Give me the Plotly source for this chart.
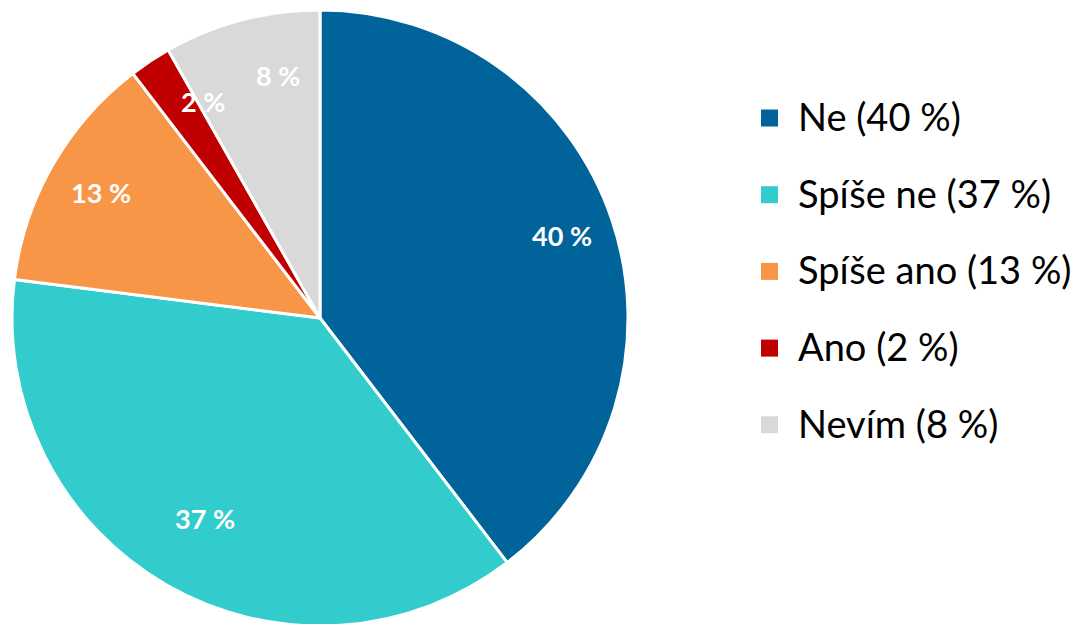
import math
import plotly.graph_objects as go

categories = ["Ne", "Spíše ne", "Spíše ano", "Ano", "Nevím"]
values = [39.6, 37.4, 12.6, 2.2, 8.2]
colors = ["#00639A", "#33CCCC", "#F79646", "#C00000", "#D9D9D9"]

W, H = 1080, 624
OFF = 8  # page body margin
cx, cy, R = 320 - OFF, 318 - OFF, 308  # pie centre / radius in pixels (figure coords)
label_r = [0.83, 0.75, 0.82, 0.80, 0.80]  # label distance as fraction of radius
label_dang = [0, 0, 0, 5, 5]  # label angular nudge (degrees, clockwise)

fig = go.Figure(go.Pie(
    labels=categories,
    values=values,
    sort=False,
    direction="clockwise",
    rotation=0,
    marker=dict(colors=colors, line=dict(color="white", width=3)),
    textinfo="none",
    hoverinfo="label+percent",
    showlegend=False,
    domain=dict(x=[(cx - R) / W, (cx + R) / W], y=[1 - (cy + R) / H, 1 - (cy - R) / H]),
))

# slice labels
total = sum(values)
cum = 0
for i, (cat, v) in enumerate(zip(categories, values)):
    mid = (cum + v / 2) / total * 2 * math.pi + math.radians(label_dang[i])
    cum += v
    r = label_r[i] * R
    px = cx + r * math.sin(mid)
    py = cy - r * math.cos(mid)
    fig.add_annotation(
        x=px / W, y=1 - py / H, xref="paper", yref="paper",
        text=f"{v:.0f} %", showarrow=False,
        font=dict(family="Lato", size=27, color="white", weight="bold"),
        xanchor="center", yanchor="middle",
    )

# legend
ly0, ldy = 118 - OFF, 76.7
mx0, mx1, tx = 761 - OFF, 778 - OFF, 796 - OFF
for i, (cat, v, c) in enumerate(zip(categories, values, colors)):
    yc = ly0 + i * ldy
    fig.add_shape(type="rect", xref="paper", yref="paper",
                  x0=mx0 / W, x1=mx1 / W, y0=1 - (yc + 8.5) / H, y1=1 - (yc - 8.5) / H,
                  fillcolor=c, line=dict(width=0))
    fig.add_annotation(
        x=tx / W, y=1 - (yc - 2) / H, xref="paper", yref="paper",
        text=f"{cat} ({v:.0f} %)", showarrow=False,
        font=dict(family="Lato", size=38, color="black"),
        xanchor="left", yanchor="middle",
    )

fig.update_layout(
    width=W, height=H,
    margin=dict(l=0, r=0, t=0, b=0),
    paper_bgcolor="white", plot_bgcolor="white",
)
fig.write_html("out.html")
